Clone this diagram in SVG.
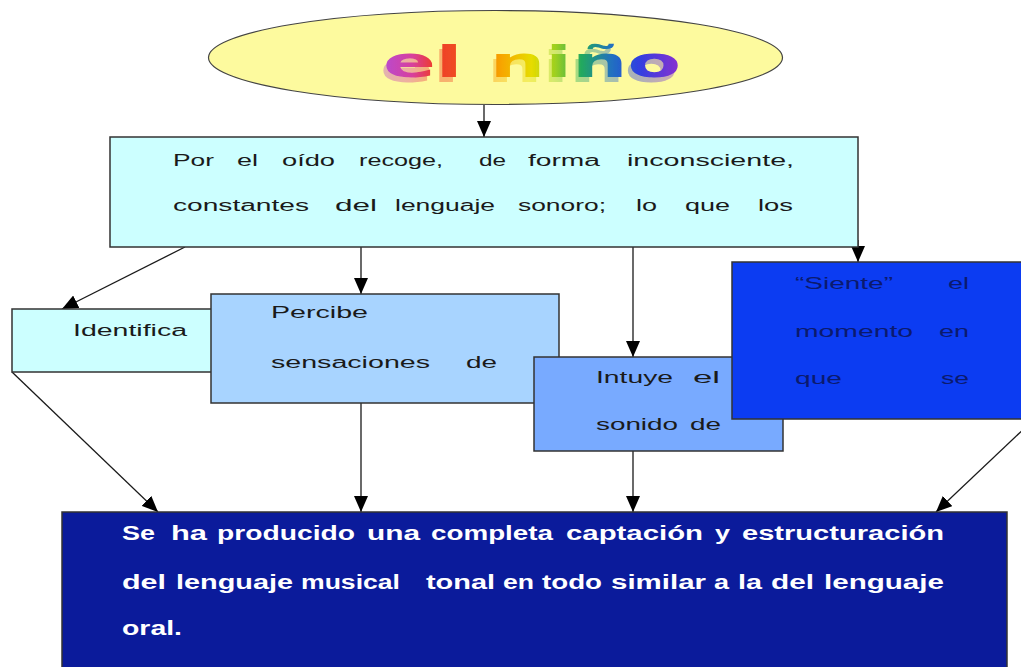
<svg xmlns="http://www.w3.org/2000/svg" width="1021" height="667" viewBox="0 0 1021 667">
<style>
.box{stroke:#333;stroke-width:1.5}
.t{font-family:"Liberation Sans",Arial,sans-serif;font-size:16px;fill:#1a1a1a}
.ts{font-family:"Liberation Sans",Arial,sans-serif;font-size:16px;fill:#0b1a6e}
.tb{font-family:"Liberation Sans",Arial,sans-serif;font-size:20px;font-weight:bold;fill:#ffffff}
.title{font-family:"DejaVu Sans",sans-serif;font-size:42px;font-weight:bold}
.c{stroke:#1a1a1a;stroke-width:1.3;fill:none;marker-end:url(#arr)}
</style>
<defs>
<marker id="arr" viewBox="0 0 16 14" refX="16" refY="7" markerWidth="16" markerHeight="14" markerUnits="userSpaceOnUse" orient="auto">
<path d="M0,0 L16,7 L0,14 z" fill="#000"/>
</marker>
<linearGradient id="rainbow" gradientUnits="userSpaceOnUse" x1="383" y1="0" x2="680" y2="0">
<stop offset="0" stop-color="#b84ad0"/>
<stop offset="0.1" stop-color="#d8409c"/>
<stop offset="0.17" stop-color="#ee3b2b"/>
<stop offset="0.27" stop-color="#f05020"/>
<stop offset="0.4" stop-color="#f7a600"/>
<stop offset="0.5" stop-color="#e6dc00"/>
<stop offset="0.58" stop-color="#9ed020"/>
<stop offset="0.67" stop-color="#20a860"/>
<stop offset="0.77" stop-color="#2070c0"/>
<stop offset="0.86" stop-color="#3040e0"/>
<stop offset="1" stop-color="#8a2fd0"/>
</linearGradient>
<filter id="shadow" x="-5%" y="-20%" width="110%" height="150%">
<feOffset in="SourceGraphic" dx="-3" dy="5" result="off"/>
<feComponentTransfer in="off" result="faint"><feFuncA type="linear" slope="0.4"/></feComponentTransfer>
<feMerge><feMergeNode in="faint"/><feMergeNode in="SourceGraphic"/></feMerge>
</filter>
</defs>

<g id="connectors">
<line class="c" x1="484" y1="105" x2="484" y2="137"/>
<line class="c" x1="185" y1="247" x2="62" y2="309"/>
<line class="c" x1="361" y1="247" x2="361" y2="294"/>
<line class="c" x1="633" y1="247" x2="633" y2="357"/>
<line class="c" x1="858" y1="240" x2="858" y2="262"/>
<line class="c" x1="12" y1="372" x2="158" y2="512"/>
<line class="c" x1="361" y1="403" x2="361" y2="512"/>
<line class="c" x1="633" y1="451" x2="633" y2="512"/>
<line class="c" x1="1030" y1="423" x2="936" y2="512"/>
</g>

<g id="nino">
<ellipse cx="495.5" cy="57.5" rx="287" ry="47" fill="#fdfa9e" stroke="#444" stroke-width="1.2"/>
<text class="title" x="383" y="77" textLength="298" lengthAdjust="spacingAndGlyphs" fill="url(#rainbow)" filter="url(#shadow)">el niño</text>
</g>

<g id="oido">
<rect class="box" x="110" y="137" width="748" height="110" fill="#ccffff"/>
<text class="t" x="173" y="166" textLength="41" lengthAdjust="spacingAndGlyphs">Por</text>
<text class="t" x="237" y="166" textLength="21" lengthAdjust="spacingAndGlyphs">el</text>
<text class="t" x="282" y="166" textLength="53" lengthAdjust="spacingAndGlyphs">oído</text>
<text class="t" x="359" y="166" textLength="84" lengthAdjust="spacingAndGlyphs">recoge,</text>
<text class="t" x="479" y="166" textLength="27" lengthAdjust="spacingAndGlyphs">de</text>
<text class="t" x="528" y="166" textLength="72" lengthAdjust="spacingAndGlyphs">forma</text>
<text class="t" x="627" y="166" textLength="167" lengthAdjust="spacingAndGlyphs">inconsciente,</text>
<text class="t" x="173" y="211" textLength="136" lengthAdjust="spacingAndGlyphs">constantes</text>
<text class="t" x="335" y="211" textLength="42" lengthAdjust="spacingAndGlyphs">del</text>
<text class="t" x="395" y="211" textLength="100" lengthAdjust="spacingAndGlyphs">lenguaje</text>
<text class="t" x="518" y="211" textLength="88" lengthAdjust="spacingAndGlyphs">sonoro;</text>
<text class="t" x="636" y="211" textLength="21" lengthAdjust="spacingAndGlyphs">lo</text>
<text class="t" x="685" y="211" textLength="45" lengthAdjust="spacingAndGlyphs">que</text>
<text class="t" x="758" y="211" textLength="35" lengthAdjust="spacingAndGlyphs">los</text>
</g>

<g id="identifica">
<rect class="box" x="12" y="309" width="200" height="63" fill="#ccffff"/>
<text class="t" x="73" y="336" textLength="114" lengthAdjust="spacingAndGlyphs">Identifica</text>
</g>

<g id="percibe">
<rect class="box" x="211" y="294" width="348" height="109" fill="#a8d4ff"/>
<text class="t" x="271" y="318" textLength="97" lengthAdjust="spacingAndGlyphs">Percibe</text>
<text class="t" x="271" y="368" textLength="159" lengthAdjust="spacingAndGlyphs">sensaciones</text>
<text class="t" x="466" y="368" textLength="31" lengthAdjust="spacingAndGlyphs">de</text>
</g>

<g id="intuye">
<rect class="box" x="534" y="357" width="249" height="94" fill="#78aaff"/>
<text class="t" x="596" y="383" textLength="77" lengthAdjust="spacingAndGlyphs">Intuye</text>
<text class="t" x="693" y="383" textLength="27" lengthAdjust="spacingAndGlyphs">el</text>
<text class="t" x="596" y="430" textLength="82" lengthAdjust="spacingAndGlyphs">sonido</text>
<text class="t" x="690" y="430" textLength="31" lengthAdjust="spacingAndGlyphs">de</text>
</g>

<g id="siente">
<rect class="box" x="732" y="262" width="300" height="157" fill="#0c3cf2"/>
<text class="ts" x="795" y="289" textLength="98" lengthAdjust="spacingAndGlyphs">“Siente”</text>
<text class="ts" x="948" y="289" textLength="21" lengthAdjust="spacingAndGlyphs">el</text>
<text class="ts" x="795" y="337" textLength="118" lengthAdjust="spacingAndGlyphs">momento</text>
<text class="ts" x="939" y="337" textLength="30" lengthAdjust="spacingAndGlyphs">en</text>
<text class="ts" x="795" y="384" textLength="47" lengthAdjust="spacingAndGlyphs">que</text>
<text class="ts" x="941" y="384" textLength="28" lengthAdjust="spacingAndGlyphs">se</text>
</g>

<g id="captacion">
<rect class="box" x="62" y="512" width="945" height="170" fill="#0b1b9b"/>
<text class="tb" x="122" y="540" textLength="33" lengthAdjust="spacingAndGlyphs">Se</text>
<text class="tb" x="171" y="540" textLength="36" lengthAdjust="spacingAndGlyphs">ha</text>
<text class="tb" x="217" y="540" textLength="138" lengthAdjust="spacingAndGlyphs">producido</text>
<text class="tb" x="367" y="540" textLength="53" lengthAdjust="spacingAndGlyphs">una</text>
<text class="tb" x="431" y="540" textLength="122" lengthAdjust="spacingAndGlyphs">completa</text>
<text class="tb" x="566" y="540" textLength="137" lengthAdjust="spacingAndGlyphs">captación</text>
<text class="tb" x="715" y="540" textLength="15" lengthAdjust="spacingAndGlyphs">y</text>
<text class="tb" x="742" y="540" textLength="202" lengthAdjust="spacingAndGlyphs">estructuración</text>
<text class="tb" x="122" y="589" textLength="44" lengthAdjust="spacingAndGlyphs">del</text>
<text class="tb" x="176" y="589" textLength="117" lengthAdjust="spacingAndGlyphs">lenguaje</text>
<text class="tb" x="301" y="589" textLength="99" lengthAdjust="spacingAndGlyphs">musical</text>
<text class="tb" x="426" y="589" textLength="69" lengthAdjust="spacingAndGlyphs">tonal</text>
<text class="tb" x="503" y="589" textLength="31" lengthAdjust="spacingAndGlyphs">en</text>
<text class="tb" x="542" y="589" textLength="60" lengthAdjust="spacingAndGlyphs">todo</text>
<text class="tb" x="611" y="589" textLength="95" lengthAdjust="spacingAndGlyphs">similar</text>
<text class="tb" x="714" y="589" textLength="15" lengthAdjust="spacingAndGlyphs">a</text>
<text class="tb" x="738" y="589" textLength="24" lengthAdjust="spacingAndGlyphs">la</text>
<text class="tb" x="771" y="589" textLength="43" lengthAdjust="spacingAndGlyphs">del</text>
<text class="tb" x="824" y="589" textLength="120" lengthAdjust="spacingAndGlyphs">lenguaje</text>
<text class="tb" x="122" y="635" textLength="60" lengthAdjust="spacingAndGlyphs">oral.</text>
</g>
</svg>
